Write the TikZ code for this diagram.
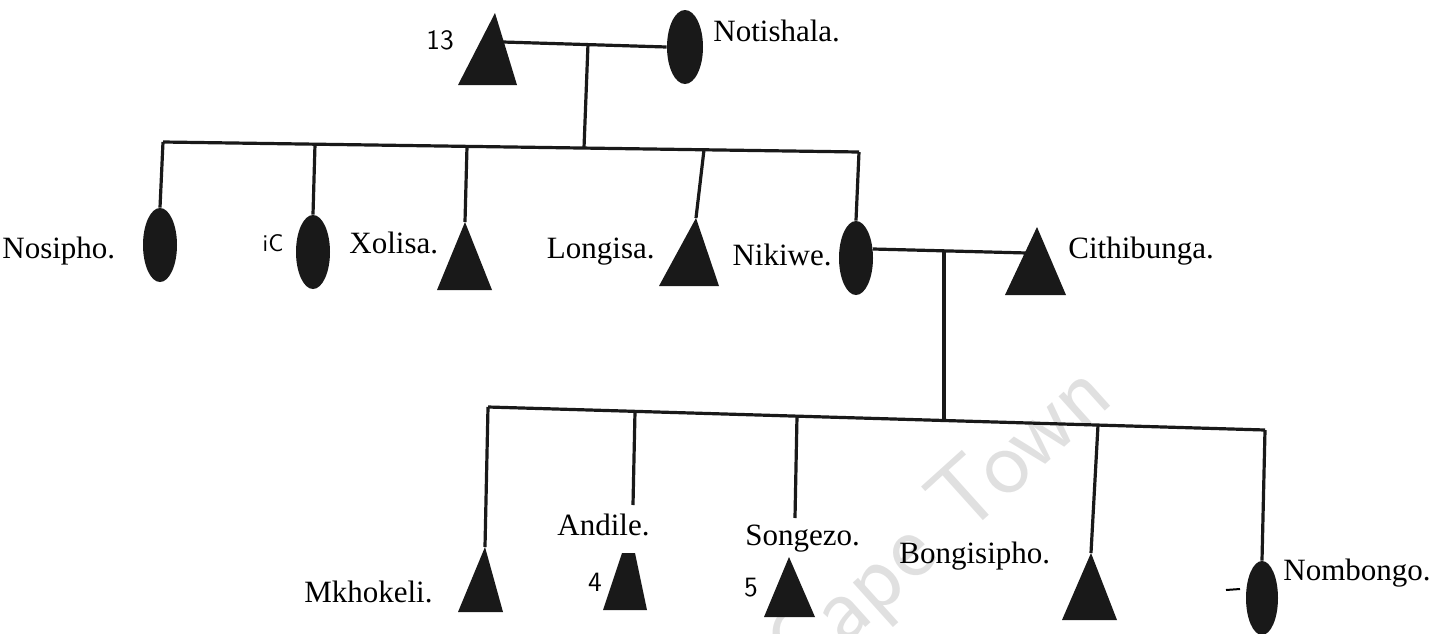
\documentclass[tikz,border=0pt]{standalone}
\usepackage{fontspec}
\setmainfont{Liberation Serif}
\usetikzlibrary{shapes.geometric}
\newcommand{\persontri}[6]{%
  \coordinate (#1) at (#2,#3);
  \fill[personfill] (#1) -- (#4,#6) -- (#5,#6) -- cycle;}
\begin{document}
\begin{tikzpicture}[x=0.5pt,y=-0.5pt,
  personfill/.style={fill=black!90},
  link/.style={line width=1.6pt, draw=black!90},
  fem/.style={ellipse, fill=black!90, inner sep=0pt, minimum width=17pt, minimum height=37pt},
  lbl/.style={font=\fontsize{15.5}{18}\selectfont, inner sep=0pt},
  hand/.style={font=\fontsize{14}{16}\selectfont\sffamily, inner sep=0pt},
  wmark/.style={font=\fontsize{48}{52}\selectfont\sffamily, text=black!12, inner sep=0pt}]
\useasboundingbox (0,0) rectangle (1453,633);

% watermark
\node[wmark, rotate=42] (wm) at (942,526) {Cape Town};

% ---- generation 1 ----
\persontri{f13}{495}{13}{458}{517}{85}
\node[fem, minimum width=18pt] (notishala) at (685,47) {};
\node[hand] (n13) at (440,40) {13};
\node[lbl, anchor=base west] (lnotishala) at (713,41) {Notishala.};
\coordinate (m1L) at (503,42);
\draw[link] (m1L) -- (notishala.west);
\coordinate (d1) at (588,44);
\coordinate (s1) at (584,148);
\draw[link] (d1) -- (s1);

% ---- generation 2 ----
\coordinate (sL) at (163,142);
\coordinate (sR) at (859,152);
\draw[link] (sL) -- (sR);
\coordinate (sIC) at (315,144.2);
\coordinate (sXo) at (467,146.4);
\coordinate (sLo) at (704,149.8);

\node[fem] (nosipho) at (160,245) {};
\node[fem] (ic) at (313,252) {};
\persontri{xolisa}{465}{222}{437}{492}{290}
\persontri{longisa}{696}{218}{659}{719}{286}
\node[fem] (nikiwe) at (856,258) {};
\persontri{cithibunga}{1037}{227}{1005}{1066}{295}

\draw[link] (sL) -- (nosipho.north);
\draw[link] (sIC) -- (ic.north);
\draw[link] (sXo) -- (xolisa);
\draw[link] (sLo) -- (longisa);
\draw[link] (sR) -- (nikiwe.north);

\node[lbl, anchor=base west] (lnosipho) at (2,258) {Nosipho.};
\node[hand, font=\fontsize{12}{14}\selectfont\sffamily] (lic) at (273,243) {iC};
\node[lbl, anchor=base west] (lxolisa) at (349,253) {Xolisa.};
\node[lbl, anchor=base east] (llongisa) at (655,258) {Longisa.};
\node[lbl, anchor=base east] (lnikiwe) at (832,265) {Nikiwe.};
\node[lbl, anchor=base west] (lcithibunga) at (1068,258) {Cithibunga.};

% marriage Nikiwe - Cithibunga
\coordinate (m2L) at (873,249);
\coordinate (m2R) at (1027,253);
\draw[link] (m2L) -- (m2R);
\coordinate (d2) at (944,251);
\coordinate (c0) at (944,420.5);
\draw[link] (d2) -- (c0);

% ---- generation 3 ----
\coordinate (cL) at (488,407);
\coordinate (cR) at (1265,430);
\draw[link] (cL) -- (cR);
\coordinate (cAn) at (635,411.4);
\coordinate (cSo) at (797,416.1);
\coordinate (cBo) at (1098,425.1);
\coordinate (eAn) at (633,505);
\coordinate (eSo) at (795,518);

\persontri{mkhokeli}{485}{547}{458}{503}{612}
\coordinate (andile) at (628,553);
\fill[personfill] (622,553) -- (635,553) -- (647,610) -- (603,610) -- cycle;
\persontri{songezo}{789}{557}{764}{815}{617}
\persontri{bongisipho}{1091}{553}{1062}{1117}{620}
\node[fem, minimum width=16pt] (nombongo) at (1262,598) {};

\draw[link] (cL) -- (mkhokeli);
\draw[link] (cAn) -- (eAn);
\draw[link] (cSo) -- (eSo);
\draw[link] (cBo) -- (bongisipho);
\draw[link] (cR) -- (nombongo.north);

\node[lbl, anchor=base east] (lmkhokeli) at (433,602) {Mkhokeli.};
\node[lbl, anchor=base west] (landile) at (557,535) {Andile.};
\node[lbl, anchor=base west] (lsongezo) at (745,545) {Songezo.};
\node[lbl, anchor=base west] (lbongisipho) at (899,563) {Bongisipho.};
\node[lbl, anchor=base west] (lnombongo) at (1283,580) {Nombongo.};
\node[hand] (n4) at (595,582) {4};
\node[hand] (n5) at (751,588) {5};
\coordinate (dashA) at (1226,590);
\coordinate (dashB) at (1240,589);
\draw[line width=1pt] (dashA) -- (dashB);
\end{tikzpicture}
\end{document}
